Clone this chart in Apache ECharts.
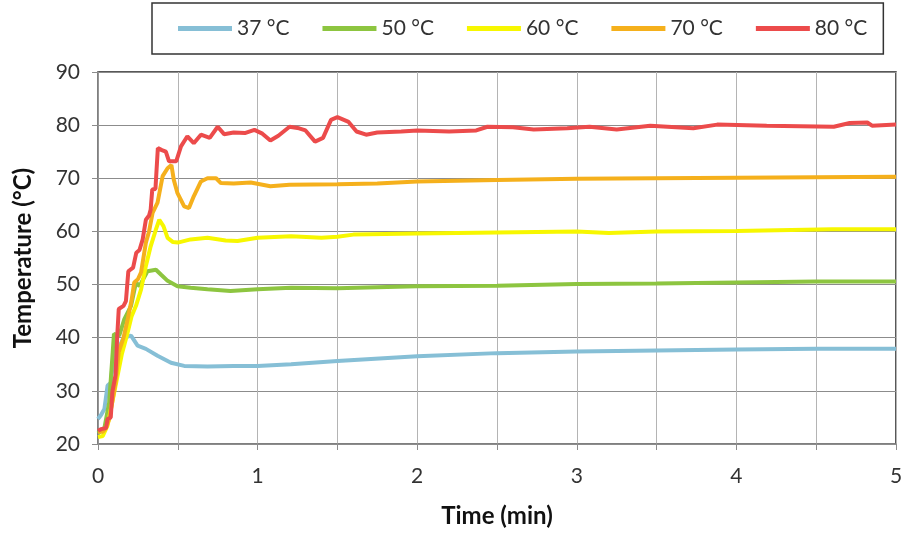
<!DOCTYPE html>
<html>
<head>
<meta charset="utf-8">
<script src="https://cdn.jsdelivr.net/npm/echarts@6/dist/echarts.min.js"></script>
<style>
  html, body { margin: 0; padding: 0; background: #fff; }
  #chart { width: 906px; height: 535px; }
</style>
</head>
<body>
<div id="chart"></div>
<script>
// Series names shown in the legend
const seriesNames = ['37 °C', '50 °C', '60 °C', '70 °C', '80 °C'];
const seriesColors = ['#86bfd6', '#8dc540', '#f7f700', '#f5b01c', '#ec4b4b'];

// Measured temperature curves: [time (min), temperature (°C)]
const curve37 = [[0,24.7],[0.02,25.5],[0.04,26.6],[0.06,31],[0.08,31.5],[0.1,37.2],[0.13,38],[0.16,40],[0.207,40.4],[0.248,38.5],[0.3,37.9],[0.373,36.6],[0.457,35.3],[0.54,34.7],[0.686,34.6],[0.85,34.7],[1.0,34.7],[1.21,35],[1.5,35.6],[2,36.5],[2.5,37.1],[3,37.4],[3.5,37.6],[4,37.8],[4.5,37.9],[5,37.9]];

const curve50 = [[0,22],[0.04,23],[0.07,27.8],[0.092,37.2],[0.1,40.7],[0.133,40.4],[0.165,43.5],[0.207,46],[0.238,50.4],[0.26,49.7],[0.31,52.5],[0.363,52.8],[0.394,51.9],[0.436,50.7],[0.498,49.7],[0.58,49.4],[0.686,49.1],[0.83,48.8],[1.0,49.1],[1.21,49.4],[1.5,49.3],[2,49.7],[2.5,49.8],[3,50.1],[3.5,50.2],[4,50.4],[4.5,50.6],[5,50.6]];

const curve60 = [[0,21.3],[0.03,21.5],[0.06,23.5],[0.09,28],[0.123,32.9],[0.15,37],[0.186,41],[0.21,44],[0.238,46],[0.27,49.1],[0.3,53.5],[0.33,57.2],[0.363,60.4],[0.384,62.2],[0.41,61],[0.436,58.8],[0.47,58],[0.5,57.9],[0.58,58.5],[0.686,58.8],[0.8,58.3],[0.874,58.2],[1.0,58.8],[1.21,59.1],[1.4,58.8],[1.5,59],[1.6,59.4],[2,59.6],[2.5,59.8],[3,60],[3.2,59.7],[3.5,60],[4,60.1],[4.6,60.4],[5,60.4]];

const curve70 = [[0,22.3],[0.03,22.3],[0.05,23],[0.07,24.7],[0.09,28],[0.11,31.6],[0.13,37.3],[0.16,40],[0.186,43.5],[0.21,47],[0.227,50.4],[0.25,51],[0.27,52.3],[0.3,57.9],[0.32,60],[0.342,63.5],[0.373,65.4],[0.405,70.4],[0.436,71.9],[0.46,72.5],[0.475,69.7],[0.498,67.2],[0.54,64.7],[0.57,64.4],[0.6,66.6],[0.645,69.4],[0.686,70],[0.74,70],[0.77,69.1],[0.85,69],[0.957,69.2],[1.08,68.5],[1.2,68.8],[1.5,68.9],[1.75,69],[2,69.4],[2.5,69.7],[3,69.9],[3.5,70],[4,70.1],[4.5,70.2],[5,70.3]];

const curve80 = [[0,22.5],[0.02,22.8],[0.05,23],[0.06,24.7],[0.08,25],[0.09,29.8],[0.11,33],[0.12,40],[0.13,45.4],[0.16,46],[0.175,46.9],[0.19,52.5],[0.22,53.2],[0.24,56],[0.26,56.5],[0.28,58.5],[0.3,62.2],[0.32,63],[0.33,64.1],[0.34,67.9],[0.36,68],[0.375,75.7],[0.4,75.3],[0.425,75],[0.445,73.2],[0.49,73.2],[0.52,76],[0.56,77.9],[0.6,76.6],[0.645,78.2],[0.7,77.6],[0.75,79.7],[0.79,78.3],[0.85,78.6],[0.92,78.5],[0.98,79.1],[1.03,78.4],[1.08,77.1],[1.13,78],[1.2,79.7],[1.26,79.4],[1.3,79],[1.36,76.9],[1.41,77.6],[1.46,81],[1.5,81.5],[1.57,80.6],[1.62,78.8],[1.68,78.2],[1.75,78.6],[1.9,78.8],[2.0,79],[2.2,78.8],[2.37,79],[2.44,79.7],[2.6,79.6],[2.73,79.2],[2.94,79.4],[3.08,79.7],[3.25,79.2],[3.46,79.9],[3.73,79.4],[3.88,80.1],[4.19,79.9],[4.4,79.8],[4.61,79.7],[4.71,80.4],[4.82,80.5],[4.85,79.9],[5,80.1]];

const curves = [curve37, curve50, curve60, curve70, curve80];

const fontFamily = 'Lato, "Liberation Sans", sans-serif';
const chart = echarts.init(document.getElementById('chart'), null, { renderer: 'canvas' });

chart.setOption({
  animation: false,
  backgroundColor: '#ffffff',
  textStyle: { fontFamily: fontFamily },
  legend: {
    left: 152,
    top: 3,
    data: seriesNames,
    icon: 'rect',
    itemWidth: 54,
    itemHeight: 5,
    itemGap: 33,
    padding: [15, 16, 15, 26],
    borderColor: '#333333',
    borderWidth: 1.5,
    textStyle: { fontSize: 21, color: '#333333', fontFamily: fontFamily }
  },
  grid: {
    left: 98, right: 10, top: 72, bottom: 91,
    show: true,
    borderColor: '#222222',
    borderWidth: 1.5,
    backgroundColor: 'transparent'
  },
  xAxis: {
    type: 'value',
    min: 0, max: 5, interval: 0.5,
    name: 'Time (min)',
    nameLocation: 'middle',
    nameGap: 60,
    nameTextStyle: { fontSize: 24, fontWeight: 'bold', color: '#111111', fontFamily: fontFamily },
    axisLine: { lineStyle: { color: '#8c8c8c', width: 1.5 } },
    axisTick: { show: true, length: 6, lineStyle: { color: '#8c8c8c' } },
    axisLabel: {
      fontSize: 21, color: '#333333', margin: 22,
      formatter: v => (Number.isInteger(v) ? String(v) : '')
    },
    splitLine: { show: true, lineStyle: { color: '#b4b4b4', width: 1 } }
  },
  yAxis: {
    type: 'value',
    min: 20, max: 90, interval: 10,
    name: 'Temperature (°C)',
    nameLocation: 'middle',
    nameGap: 63,
    nameTextStyle: { fontSize: 24, fontWeight: 'bold', color: '#111111', fontFamily: fontFamily },
    axisLine: { show: true, lineStyle: { color: '#8c8c8c', width: 1.5 } },
    axisTick: { show: true, length: 6, lineStyle: { color: '#8c8c8c' } },
    axisLabel: { fontSize: 21, color: '#333333', margin: 18 },
    splitLine: { show: true, lineStyle: { color: '#8c8c8c', width: 1 } }
  },
  series: curves.map((d, i) => ({
    name: seriesNames[i],
    type: 'line',
    data: d,
    showSymbol: false,
    smooth: false,
    color: seriesColors[i],
    lineStyle: { width: 4, color: seriesColors[i] },
    z: 2 + i
  }))
});
</script>
</body>
</html>
